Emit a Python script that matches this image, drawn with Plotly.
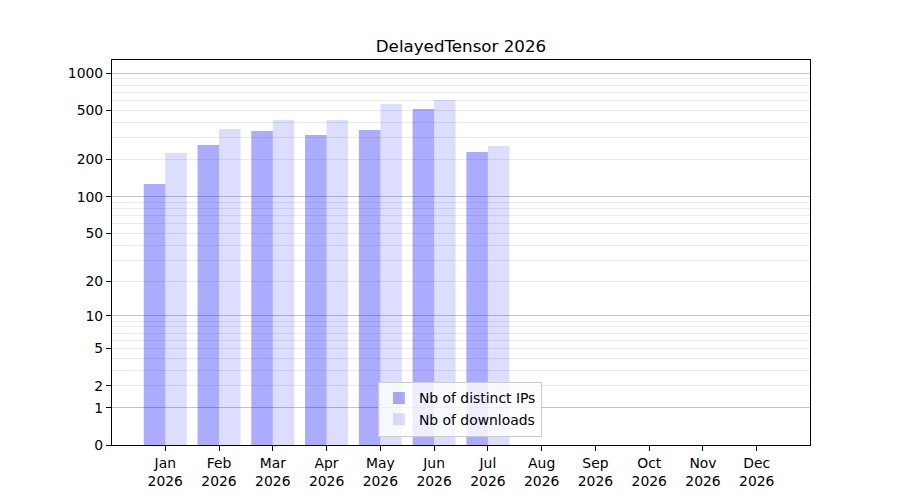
import numpy as np
import plotly.graph_objects as go

months = ["Jan", "Feb", "Mar", "Apr", "May", "Jun", "Jul", "Aug", "Sep", "Oct", "Nov", "Dec"]
year = "2026"
distinct_ips = [127, 263, 341, 317, 348, 514, 231, 0, 0, 0, 0, 0]
downloads = [226, 354, 419, 419, 564, 608, 258, 0, 0, 0, 0, 0]
ytick_values = [0, 1, 2, 5, 10, 20, 50, 100, 200, 500, 1000]
major_grid_values = [1, 10, 100, 1000]
minor_grid_values = [m * d for d in (1, 10, 100) for m in range(2, 10)]


def tr(v):
    # symmetric-ish log scale: log10(1 + v)
    return np.log10(1 + np.asarray(v, dtype=float))


x = np.arange(1, 13)
font = "DejaVu Sans"
yrange = [0, 3.107]

fig = go.Figure()
fig.add_trace(go.Bar(x=x, y=tr(distinct_ips), width=0.4, offset=-0.4,
                     marker=dict(color="rgba(0,0,255,0.33)", line=dict(width=0)),
                     name="Nb of distinct IPs"))
fig.add_trace(go.Bar(x=x, y=tr(downloads), width=0.4, offset=0,
                     marker=dict(color="rgba(0,0,255,0.135)", line=dict(width=0)),
                     name="Nb of downloads"))
# invisible trace carrying the darker decade gridlines
fig.add_trace(go.Scatter(x=[x[0]], y=[0], yaxis="y2", mode="markers",
                         marker=dict(opacity=0), showlegend=False, hoverinfo="skip"))

# the page body adds an 8px offset, so margins are shifted to compensate
fig.update_layout(
    width=900, height=500,
    margin=dict(l=104, r=98, t=52, b=63),
    paper_bgcolor="white", plot_bgcolor="white",
    font=dict(family=font, size=14, color="black"),
    title=dict(text="DelayedTensor 2026", x=0.5, xref="paper", xanchor="center",
               y=1, yref="paper", yanchor="bottom", pad=dict(b=8),
               font=dict(family=font, size=16.7, color="black")),
    barmode="overlay",
    showlegend=True,
    legend=dict(x=0.381, y=0.022, xanchor="left", yanchor="bottom",
                bgcolor="rgba(255,255,255,0.8)", bordercolor="#cccccc", borderwidth=1,
                font=dict(family=font, size=13.9, color="black"),
                tracegroupgap=0, itemwidth=30),
    xaxis=dict(range=[0.01, 12.99], tickmode="array", tickvals=x,
               ticktext=[f"{m}<br>{year}" for m in months],
               ticks="outside", ticklen=5, tickwidth=1.1, tickcolor="black",
               showline=True, linecolor="black", linewidth=1.1, mirror=True,
               showgrid=False, zeroline=False, automargin=False,
               tickfont=dict(family=font, size=13.9, color="black")),
    yaxis=dict(range=yrange, tickmode="array", tickvals=tr(ytick_values),
               ticktext=[str(v) for v in ytick_values],
               ticks="outside", ticklen=5, tickwidth=1.1, tickcolor="black",
               showline=True, linecolor="black", linewidth=1.1, mirror=True,
               showgrid=False, zeroline=False, automargin=False,
               minor=dict(tickmode="array", tickvals=tr(minor_grid_values),
                          showgrid=True, gridcolor="#ebebeb", gridwidth=1, ticks=""),
               tickfont=dict(family=font, size=13.9, color="black")),
    yaxis2=dict(range=yrange, overlaying="y", side="left", tickmode="array",
                tickvals=tr(major_grid_values), showticklabels=False, ticks="",
                showgrid=True, gridcolor="#c4c4c4", gridwidth=1,
                zeroline=False, showline=False, automargin=False),
)

fig.write_html("out.html")
